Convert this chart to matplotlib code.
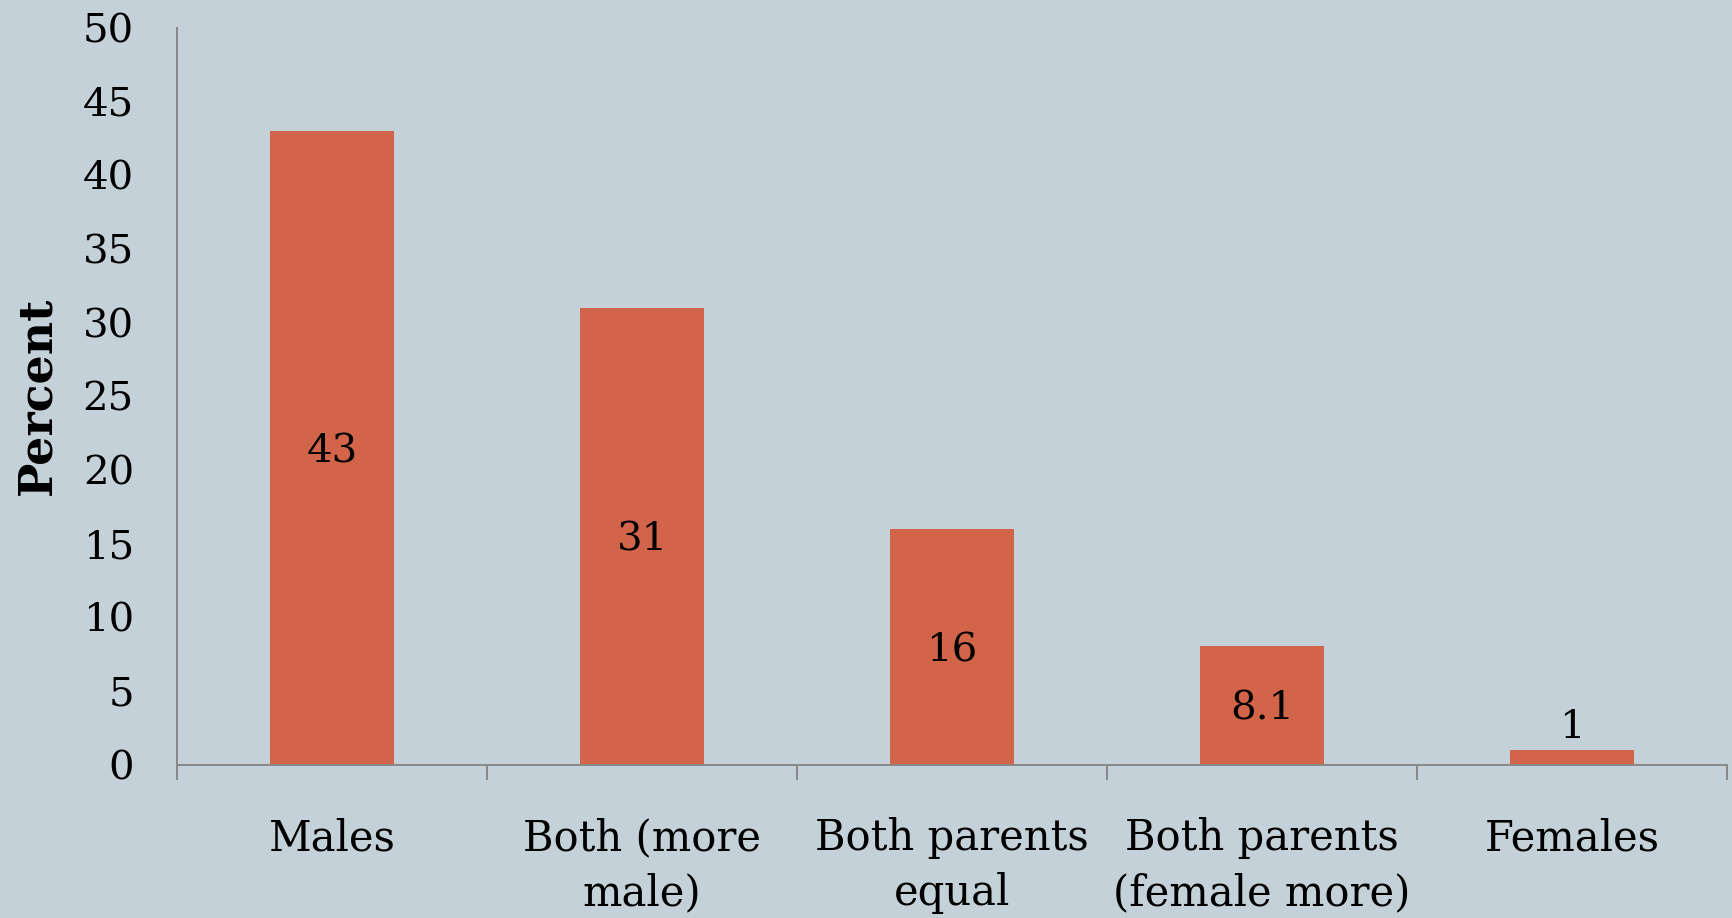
import numpy as np
import matplotlib.pyplot as plt

# --- Données ---
categories = ["Males", "Both (more\nmale)", "Both parents\nequal",
              "Both parents\n(female more)", "Females"]
valeurs = [43, 31, 16, 8.1, 1]
etiquettes = ["43", "31", "16", "8.1", "1"]
yticks = [0, 5, 10, 15, 20, 25, 30, 35, 40, 45, 50]

fond = "#C5D1D8"
couleur_barre = "#D2644A"
gris = "#888888"

plt.rcParams['font.family'] = ['DejaVu Serif']

fig = plt.figure(figsize=(17.32, 9.18), dpi=100)
fig.patch.set_facecolor(fond)
ax = fig.add_axes([0.1022, 0.1667, 0.895, 0.8033])
ax.set_facecolor(fond)

x = np.arange(len(categories))
ax.bar(x, valeurs, width=0.4, color=couleur_barre, zorder=2)

# étiquettes de valeurs : centrées dans la barre, au-dessus si la barre est trop basse
for xi, v, lab in zip(x, valeurs, etiquettes):
    if v > 5:
        ax.text(xi, v / 2 - 0.25, lab, ha="center", va="center", fontsize=29, color="black")
    else:
        ax.text(xi, v + 0.3, lab, ha="center", va="bottom", fontsize=29, color="black")

ax.set_xlim(-0.5, len(categories) - 0.5)
ax.set_ylim(0, 50)
ax.set_yticks(yticks)
ax.set_yticklabels([str(t) for t in yticks], fontsize=29)

# graduations de l'axe x aux frontières des catégories
ax.set_xticks(np.arange(-0.5, len(categories), 1.0))
ax.set_xticklabels([])
ax.set_xticks(x, minor=True)
ax.set_xticklabels(categories, minor=True, fontsize=30, linespacing=1.4)
ax.tick_params(axis="x", which="major", length=11, width=1.4, color=gris, direction="out")
ax.tick_params(axis="x", which="minor", length=0, pad=37.5)
ax.tick_params(axis="y", length=0, pad=31)

for s in ["top", "right"]:
    ax.spines[s].set_visible(False)
for s in ["left", "bottom"]:
    ax.spines[s].set_color(gris)
    ax.spines[s].set_linewidth(1.4)

ax.set_ylabel("Percent", fontsize=33, fontweight="bold", labelpad=16)

fig.savefig("out.png", dpi=100, facecolor=fond)
